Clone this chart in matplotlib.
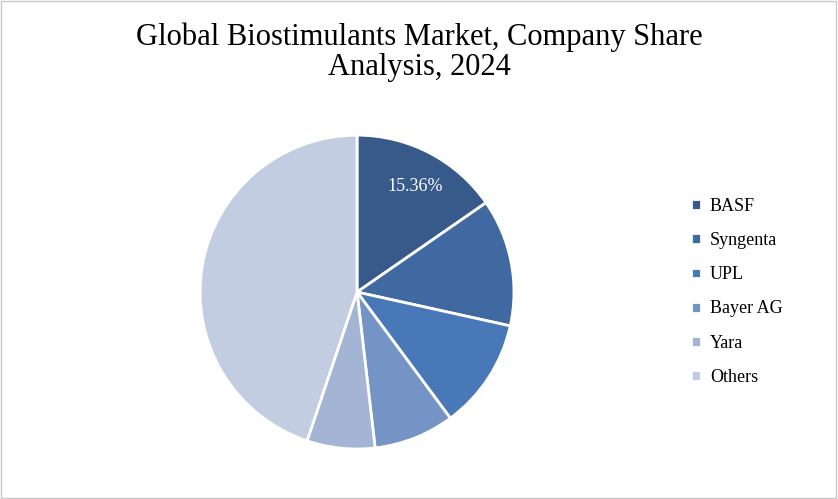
import matplotlib.pyplot as plt
from matplotlib.patches import Rectangle

companies = ["BASF", "Syngenta", "UPL", "Bayer AG", "Yara", "Others"]
shares = [15.36, 13.1, 11.4, 8.3, 7.0, 44.84]
colors = ["#375a8a", "#3f69a0", "#4878b8", "#7594c6", "#a3b4d5", "#c3cde1"]

plt.rcParams['font.family'] = ['Liberation Serif', 'DejaVu Serif']

fig = plt.figure(figsize=(8.38, 4.99), dpi=100)
fig.patches.append(Rectangle((0.001, 0.002), 0.997, 0.995, transform=fig.transFigure,
                             fill=False, edgecolor="#c8c8c8", linewidth=1))

ax = fig.add_axes([0.2387, 0.1002, 0.3747, 0.629])
wedges, _ = ax.pie(shares, colors=colors, startangle=90, counterclock=False,
                   wedgeprops=dict(edgecolor="white", linewidth=2))
ax.set_xlim(-1, 1)
ax.set_ylim(-1, 1)
ax.set_aspect("equal")
ax.text(0.37, 0.67, f"{shares[0]:.2f}%", ha="center", va="center", color="white", fontsize=13)

fig.text(0.5, 0.895, "Global Biostimulants Market, Company Share\nAnalysis, 2024",
         ha="center", va="center", fontsize=22, linespacing=1.05)

fig.legend(wedges, companies, loc="center left", bbox_to_anchor=(0.805, 0.415),
           frameon=False, fontsize=13, handlelength=0.55, handleheight=0.55,
           labelspacing=0.95, handletextpad=0.5)

fig.savefig("out.png", dpi=100)
